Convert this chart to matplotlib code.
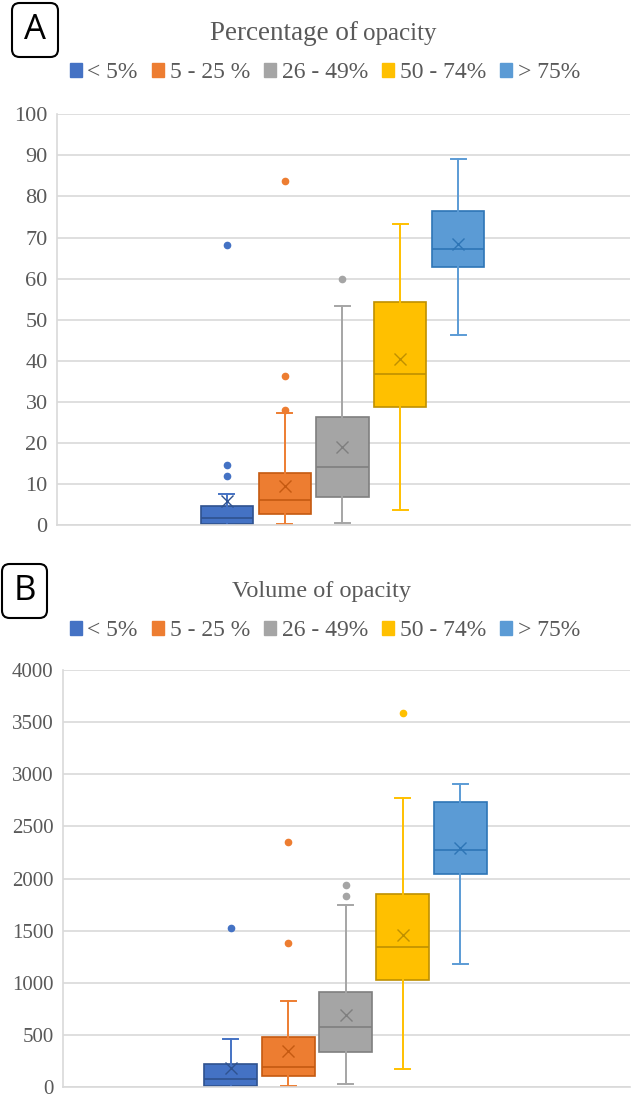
import matplotlib
matplotlib.use("Agg")
import matplotlib.pyplot as plt
from matplotlib.patches import Patch, FancyBboxPatch

SERIF = "Liberation Serif"
plt.rcParams["font.family"] = [SERIF, "DejaVu Serif"]

# groups (percentage of lung opacity)
groups = ["< 5%", "5 - 25 %", "26 - 49%", "50 - 74%", "> 75%"]
colors = ["#4472C4", "#ED7D31", "#A5A5A5", "#FFC000", "#5B9BD5"]
darks = ["#2F528F", "#C55A11", "#7F7F7F", "#BF9000", "#2E75B6"]

# panel A - percentage of opacity
pct_q1 = [0.2, 2.6, 6.7, 28.7, 62.9]
pct_med = [1.8, 6.0, 14.2, 36.8, 67.1]
pct_q3 = [4.7, 12.6, 26.4, 54.4, 76.4]
pct_lo = [0.1, 0.3, 0.4, 3.6, 46.3]
pct_hi = [7.5, 27.3, 53.3, 73.4, 89.0]
pct_mean = [5.8, 9.5, 18.9, 40.4, 68.3]
pct_out = [[68.2, 14.6, 12.0], [83.8, 36.3, 28.1], [59.9], [], []]

# panel B - volume of opacity
vol_q1 = [10, 105, 335, 1025, 2047]
vol_med = [80, 195, 572, 1344, 2270]
vol_q3 = [223, 482, 910, 1849, 2733]
vol_lo = [2, 10, 25, 172, 1178]
vol_hi = [460, 824, 1750, 2775, 2909]
vol_mean = [185, 342, 686, 1456, 2293]
vol_out = [[1526], [2353, 1386], [1938, 1833], [3586], []]

W, H = 634, 1098
grey = "#595959"

fig = plt.figure(figsize=(W / 100, H / 100), dpi=100)


def px(x0, y0, x1, y1):
    # pixel box -> figure fraction [left, bottom, width, height]
    return [x0 / W, 1 - y1 / H, (x1 - x0) / W, (y1 - y0) / H]


def draw_panel(ax, q1, med, q3, lo, hi, mean, outs, ymax, step, xlim, width, tick_size):
    for i in range(len(groups)):
        st = dict(q1=q1[i], med=med[i], q3=q3[i], whislo=lo[i], whishi=hi[i],
                  mean=mean[i], fliers=outs[i])
        ax.bxp([st], positions=[i - 2], widths=width, patch_artist=True,
               showmeans=True, capwidths=0.26, manage_ticks=False,
               boxprops=dict(facecolor=colors[i], edgecolor=darks[i], linewidth=1.2),
               medianprops=dict(color=darks[i], linewidth=1.2),
               whiskerprops=dict(color=colors[i], linewidth=1.4),
               capprops=dict(color=colors[i], linewidth=1.4),
               meanprops=dict(marker="x", markeredgecolor=darks[i], markersize=9,
                              markeredgewidth=1.0),
               flierprops=dict(marker="o", markerfacecolor=colors[i],
                               markeredgecolor=colors[i], markersize=4.5))
    ax.set_xlim(*xlim)
    ax.set_ylim(0, ymax)
    ticks = list(range(0, ymax + 1, step))
    ax.set_yticks(ticks)
    ax.set_yticklabels([str(t) for t in ticks], fontfamily=SERIF,
                       fontsize=tick_size, color=grey)
    ax.set_xticks([])
    ax.yaxis.grid(True, color="#D9D9D9", linewidth=1.2)
    ax.set_axisbelow(True)
    for s in ["top", "right"]:
        ax.spines[s].set_visible(False)
    for s in ["left", "bottom"]:
        ax.spines[s].set_color("#D9D9D9")
        ax.spines[s].set_linewidth(1.2)
    ax.tick_params(axis="y", length=0, pad=7)


axA = fig.add_axes(px(57.3, 114.3, 630, 525))
draw_panel(axA, pct_q1, pct_med, pct_q3, pct_lo, pct_hi, pct_mean, pct_out,
           100, 10, (-4.93, 4.97), 0.9, 16)

axB = fig.add_axes(px(63.3, 670, 630, 1087))
draw_panel(axB, vol_q1, vol_med, vol_q3, vol_lo, vol_hi, vol_mean, vol_out,
           4000, 500, (-4.92, 4.96), 0.92, 15)

# titles
fig.text(358 / W, 1 - 40 / H, "Percentage of", ha="right", va="baseline",
         fontsize=19.5, color=grey, fontfamily=SERIF)
fig.text(363 / W, 1 - 40 / H, "opacity", ha="left", va="baseline",
         fontsize=18, color=grey, fontfamily=SERIF)
fig.text(322 / W, 1 - 597 / H, "Volume of opacity", ha="center", va="baseline",
         fontsize=17.5, color=grey, fontfamily=SERIF)

# legends
handles = [Patch(facecolor=c, edgecolor=c) for c in colors]
for ycen in [73, 631]:
    leg = fig.legend(handles, groups, ncol=5, loc="center",
                     bbox_to_anchor=(325 / W, 1 - ycen / H), frameon=False,
                     handlelength=0.5, handleheight=0.5, handletextpad=0.25,
                     columnspacing=0.6, borderaxespad=0,
                     prop=dict(family=SERIF, size=17))
    for t in leg.get_texts():
        t.set_color(grey)

# panel letters in rounded boxes
for letter, (x0, y0, x1, y1) in [("A", (12, 3, 58, 57)), ("B", (2, 564, 47, 618))]:
    r = FancyBboxPatch((x0 / W, 1 - y1 / H), (x1 - x0) / W, (y1 - y0) / H,
                       boxstyle="round,pad=0,rounding_size=0.012",
                       transform=fig.transFigure, facecolor="white",
                       edgecolor="black", linewidth=1.5, mutation_aspect=W / H)
    fig.patches.append(r)
    fig.text((x0 + x1) / 2 / W, 1 - (y0 + y1) / 2 / H, letter, ha="center",
             va="center", fontsize=25, family="Open Sans", color="black")

fig.savefig("out.png", dpi=100)
